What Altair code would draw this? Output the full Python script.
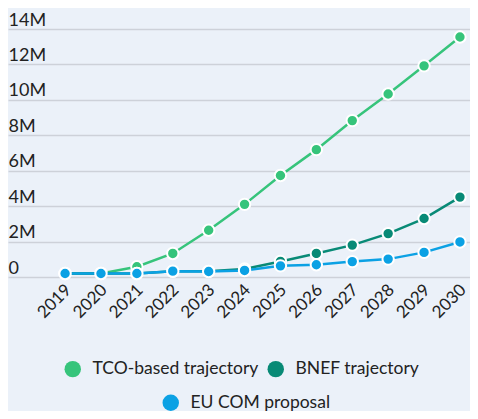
import altair as alt
import pandas as pd

years = list(range(2019, 2031))
tco = [0.2, 0.2, 0.58, 1.33, 2.64, 4.10, 5.73, 7.19, 8.83, 10.33, 11.92, 13.55]
bnef = [0.2, 0.2, 0.2, 0.32, 0.32, 0.45, 0.88, 1.33, 1.80, 2.45, 3.30, 4.51]
eucom = [0.2, 0.2, 0.2, 0.33, 0.31, 0.37, 0.63, 0.69, 0.87, 1.01, 1.39, 1.98]

names = ["TCO-based trajectory", "BNEF trajectory", "EU COM proposal"]
colors = ["#36c47b", "#088a76", "#0ba1e4"]

rows = []
for name, vals in zip(names, [tco, bnef, eucom]):
    for y, v in zip(years, vals):
        rows.append({"year": y, "value": v * 1e6, "series": name})
df = pd.DataFrame(rows)

FONT = "Lato"

x = alt.X("year:Q", title=None,
          scale=alt.Scale(domain=[2017.41, 2030.28], nice=False, zero=False),
          axis=alt.Axis(values=years, format="d", labelAngle=-45, labelFontSize=17,
                        labelColor="#222222", labelFont=FONT, grid=False, domain=False,
                        ticks=False, labelPadding=10, labelOffset=3, labelAlign="right",
                        labelBaseline="middle", labelFlush=False, labelOverlap=False))
y = alt.Y("value:Q", title=None,
          scale=alt.Scale(domain=[0, 14e6], nice=False),
          axis=alt.Axis(values=[i * 2e6 for i in range(8)],
                        labelExpr="datum.value == 0 ? '0' : (datum.value / 1e6) + 'M'",
                        labelAlign="left", labelBaseline="alphabetic", labelPadding=0,
                        tickSize=0, ticks=False, domain=False, labelOffset=-4,
                        labelFontSize=18, labelColor="#222222", labelFont=FONT,
                        labelFlush=False, gridColor="#cdd1d9", gridWidth=1.5))


def legend(lx, ly):
    return alt.Legend(orient="none", legendX=lx, legendY=ly, direction="horizontal",
                      title=None, symbolType="circle", symbolSize=270,
                      symbolStrokeWidth=0, symbolOpacity=1, labelFontSize=17.5,
                      labelFont=FONT, labelColor="#222222", columnPadding=8,
                      labelOffset=11, symbolOffset=0, labelLimit=0)


dfa = df[df.series != names[2]]
dfb = df[df.series == names[2]]

ca = alt.Color("series:N", sort=names[:2],
               scale=alt.Scale(domain=names[:2], range=colors[:2]),
               legend=legend(56, 331))
cb = alt.Color("series:N",
               scale=alt.Scale(domain=names[2:], range=colors[2:]),
               legend=legend(154, 365))

la = alt.Chart(dfa).mark_line(strokeWidth=2.5).encode(x=x, y=y, color=ca, detail="series:N")
pa = alt.Chart(dfa).mark_point(filled=True, size=130, stroke="white", strokeWidth=2,
                               opacity=1).encode(x=x, y=y, color=ca)
lb = alt.Chart(dfb).mark_line(strokeWidth=2.5).encode(x=x, y=y, color=cb)
pb = alt.Chart(dfb).mark_point(filled=True, size=130, stroke="white", strokeWidth=2,
                               opacity=1).encode(x=x, y=y, color=cb)

chart = alt.layer(alt.layer(la, pa), alt.layer(lb, pb)).resolve_scale(
    color="independent"
).properties(
    width=462, height=248,
    autosize=alt.AutoSizeParams(type="none"),
    padding={"left": 0, "top": 21, "right": 0, "bottom": 134},
    background="#ebf1f9",
).configure_view(stroke=None)

chart.save("out.html", embed_options={"renderer": "svg", "actions": False})
